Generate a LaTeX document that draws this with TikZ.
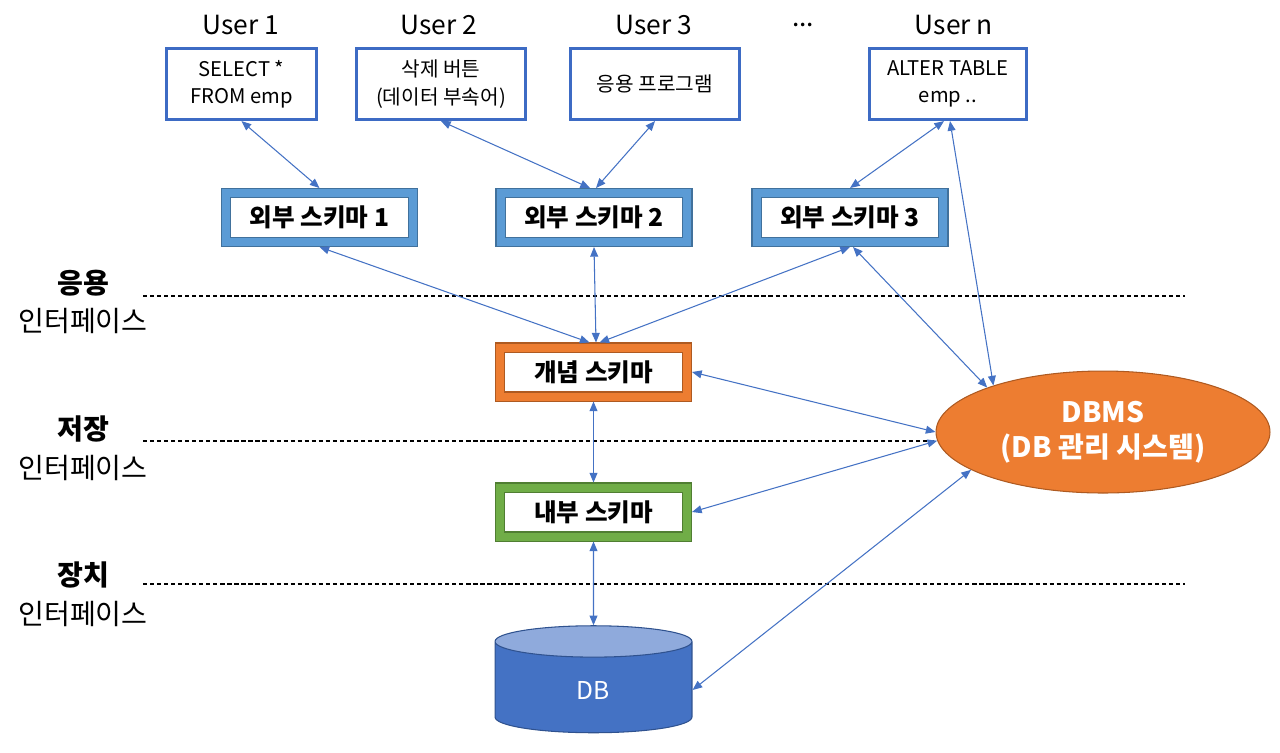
\documentclass[tikz,border=0pt]{standalone}
\usepackage{fontspec}
\setmainfont{Noto Sans CJK KR}
\usetikzlibrary{arrows,arrows.meta,positioning,shapes}

\definecolor{userblue}{HTML}{3D6BC4}
\definecolor{bandblue}{HTML}{5B9BD5}
\definecolor{lineblue}{HTML}{41719C}
\definecolor{bandorange}{HTML}{ED7D31}
\definecolor{lineorange}{HTML}{AE5A21}
\definecolor{bandgreen}{HTML}{70AD47}
\definecolor{linegreen}{HTML}{507E32}
\definecolor{dbbody}{HTML}{4472C4}
\definecolor{dbtop}{HTML}{8FAADC}
\definecolor{dbline}{HTML}{2F528F}
\definecolor{arrowblue}{HTML}{4472C4}

\begin{document}
\begin{tikzpicture}[x=0.02cm,y=-0.02cm,>={Triangle[length=5.5pt,width=4.5pt]},
    user box/.style={draw=userblue,line width=1.8pt,fill=white,align=center,
                     minimum height=1.42cm,font=\fontsize{11.5}{15.5}\selectfont},
    schema/.style 2 args={draw=#2,double=#1,double distance=0.16cm,line width=0.6pt,
                     fill=white,outer sep=0.1cm,minimum width=3.74cm,minimum height=0.98cm,
                     font=\bfseries\fontsize{14}{16}\selectfont},
    user label/.style={font=\fontsize{15}{18}\selectfont},
    layer label/.style={align=center,font=\fontsize{16}{22}\selectfont},
    link/.style={<->,color=arrowblue,line width=0.6pt},
    level line/.style={dashed,dash pattern=on 2.4pt off 1.6pt,line width=0.8pt}]
    \useasboundingbox (0,0) rectangle (1280,752);

    % users
    \node[user box,minimum width=3.0cm] (u1) at (241.5,84) {SELECT *\\FROM emp};
    \node[user box,minimum width=3.38cm] (u2) at (441,84) {삭제 버튼\\(데이터 부속어)};
    \node[user box,minimum width=3.38cm] (u3) at (655,84) {응용 프로그램};
    \node[user box,minimum width=3.14cm] (un) at (948,84) {ALTER TABLE\\emp ..};
    \node[user label] (l1) at (241,25) {User 1};
    \node[user label] (l2) at (439,25) {User 2};
    \node[user label] (l3) at (654,25) {User 3};
    \node[user label] (ldots) at (803,25) {...};
    \node[user label] (ln) at (954,25) {User n};

    % schemas
    \node[schema={bandblue}{lineblue}] (es1) at (319.5,217.5) {외부 스키마 1};
    \node[schema={bandblue}{lineblue}] (es2) at (594,217.5) {외부 스키마 2};
    \node[schema={bandblue}{lineblue}] (es3) at (850,217.5) {외부 스키마 3};
    \node[schema={bandorange}{lineorange}] (cs) at (593.5,372) {개념 스키마};
    \node[schema={bandgreen}{linegreen}] (is) at (593.5,512) {내부 스키마};

    \node[cylinder,shape border rotate=90,aspect=0.7,draw=dbline,line width=0.6pt,
          cylinder uses custom fill,cylinder body fill=dbbody,cylinder end fill=dbtop,
          minimum width=3.94cm,minimum height=2.14cm,text=white,
          font=\fontsize{14}{16}\selectfont] (db) at (593.5,690) {DB};
    \node[ellipse,fill=bandorange,draw=lineorange,line width=0.6pt,inner sep=0pt,
          minimum width=6.68cm,minimum height=2.44cm,align=center,text=white,
          font=\bfseries\fontsize{16}{20}\selectfont] (dbms) at (1103,432) {DBMS\\(DB 관리 시스템)};

    % levels
    \node[layer label] (app) at (83,302) {\textbf{응용}\\인터페이스};
    \node[layer label] (store) at (83,448) {\textbf{저장}\\인터페이스};
    \node[layer label] (dev) at (83,594) {\textbf{장치}\\인터페이스};
    \draw[level line] (143,296) -- (1185,296);
    \draw[level line] (143,441) -- (dbms.west |- 0,441);
    \draw[level line] (143,584) -- (1185,584);

    \path[link]
        (u1.south) edge (es1.north)
        (u2.south) edge ([xshift=-0.08cm]es2.north)
        (u3.south) edge ([xshift=0.04cm]es2.north)
        ([xshift=-0.08cm]un.south) edge (es3.north)
        ([xshift=0.04cm]un.south) edge (dbms.157)
        (es1.south) edge ([xshift=-0.08cm]cs.north)
        (es2.south) edge ([xshift=0.05cm]cs.north)
        (es3.south) edge ([xshift=0.12cm]cs.north)
        ([xshift=0.06cm]es3.south) edge (dbms.159)
        (cs.east) edge (dbms.west)
        (cs.south) edge (is.north)
        (is.east) edge (dbms.183)
        (is.south) edge (db.90)
        (db.0) edge (dbms.196);
\end{tikzpicture}
\end{document}
